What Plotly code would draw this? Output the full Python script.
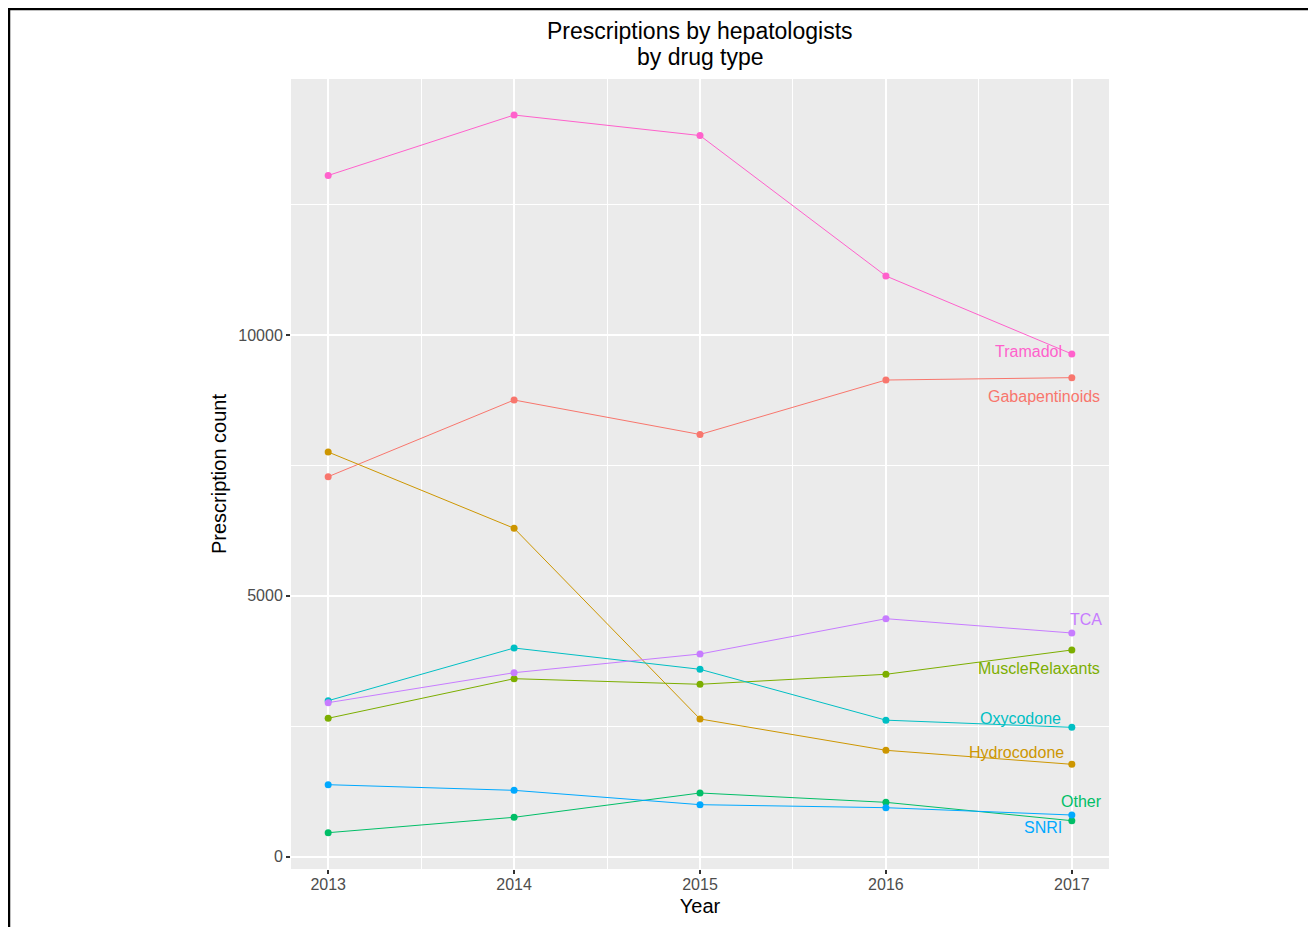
import plotly.graph_objects as go

years = [2013, 2014, 2015, 2016, 2017]
drugs = ["Gabapentinoids", "Hydrocodone", "MuscleRelaxants", "Other",
         "Oxycodone", "SNRI", "TCA", "Tramadol"]
gabapentinoids = [7284, 8754, 8093, 9137, 9182]
hydrocodone = [7757, 6295, 2640, 2039, 1771]
muscle_relaxants = [2653, 3412, 3305, 3496, 3962]
other = [460, 755, 1221, 1042, 690]
oxycodone = [2990, 4000, 3592, 2617, 2480]
snri = [1380, 1272, 997, 939, 799]
tca = [2952, 3527, 3885, 4562, 4288]
tramadol = [13058, 14217, 13823, 11131, 9636]
title_lines = ["Prescriptions by hepatologists", "by drug type"]

series = [gabapentinoids, hydrocodone, muscle_relaxants, other,
          oxycodone, snri, tca, tramadol]
colors = ["#F8766D", "#CD9600", "#7CAE00", "#00BE67",
          "#00BFC4", "#00A9FF", "#C77CFF", "#FF61CC"]
# label offsets (pixels) relative to the last point
label_shift = {
    "Gabapentinoids": (-28, -19),
    "Hydrocodone": (-55, 12),
    "MuscleRelaxants": (-33, -19),
    "Other": (10, 19),
    "Oxycodone": (-51, 9),
    "SNRI": (-29, -12),
    "TCA": (14, 13),
    "Tramadol": (-43, 2),
}

FONT = "Arial, Liberation Sans, Helvetica, sans-serif"

W, H = 1308, 919
L, T, R, B = 283, 71, 207, 58
PW, PH = W - L - R, H - T - B

fig = go.Figure()
annotations = []
for name, vals, col in zip(drugs, series, colors):
    fig.add_trace(go.Scatter(
        x=years, y=vals, mode="lines+markers", name=name,
        line=dict(color=col, width=1),
        marker=dict(color=col, size=7),
        showlegend=False,
    ))
    dx, dy = label_shift[name]
    annotations.append(dict(
        x=years[-1], y=vals[-1], xref="x", yref="y", text=name,
        showarrow=False, xshift=dx, yshift=dy,
        font=dict(family=FONT, size=16, color=col),
    ))

# title (two lines)
for i, line in enumerate(title_lines):
    annotations.append(dict(
        x=0.5, xref="paper", xanchor="center",
        y=(T + PH - (23 + 26 * i)) / PH, yref="paper", yanchor="middle",
        text=line, showarrow=False,
        font=dict(family=FONT, size=23, color="black"),
    ))

fig.update_layout(
    width=W, height=H,
    margin=dict(l=L, r=R, t=T, b=B),
    paper_bgcolor="white",
    plot_bgcolor="#EBEBEB",
    font=dict(family=FONT, color="black"),
    annotations=annotations,
    shapes=[dict(
        type="rect", xref="paper", yref="paper",
        x0=(1 - L) / PW, x1=(W - 1 - L) / PW,
        y0=(T + PH - (H + 20)) / PH, y1=(T + PH - 1) / PH,
        line=dict(color="black", width=2.5), layer="above",
    )],
)

fig.update_xaxes(
    range=[2012.8, 2017.2],
    tickmode="array", tickvals=years, ticktext=[str(y) for y in years],
    showgrid=True, gridcolor="white", gridwidth=2,
    minor=dict(tickmode="array", tickvals=[2013.5, 2014.5, 2015.5, 2016.5],
               showgrid=True, gridcolor="white", gridwidth=1),
    zeroline=False, showline=False,
    ticks="outside", ticklen=4, tickwidth=1.5, tickcolor="#333333",
    ticklabelstandoff=-3,
    tickfont=dict(family=FONT, size=16, color="#4D4D4D"),
    title=dict(text="Year", font=dict(family=FONT, size=20, color="black"),
               standoff=6),
)
fig.update_yaxes(
    range=[-236, 14907],
    tickmode="array", tickvals=[0, 5000, 10000],
    ticktext=["0", "5000", "10000"],
    showgrid=True, gridcolor="white", gridwidth=2,
    minor=dict(tickmode="array", tickvals=[2500, 7500, 12500],
               showgrid=True, gridcolor="white", gridwidth=1),
    zeroline=False, showline=False,
    ticks="outside", ticklen=4, tickwidth=1.5, tickcolor="#333333",
    tickfont=dict(family=FONT, size=16, color="#4D4D4D"),
    title=dict(text="Prescription count",
               font=dict(family=FONT, size=20, color="black"), standoff=6),
)

fig.write_html("out.html")
